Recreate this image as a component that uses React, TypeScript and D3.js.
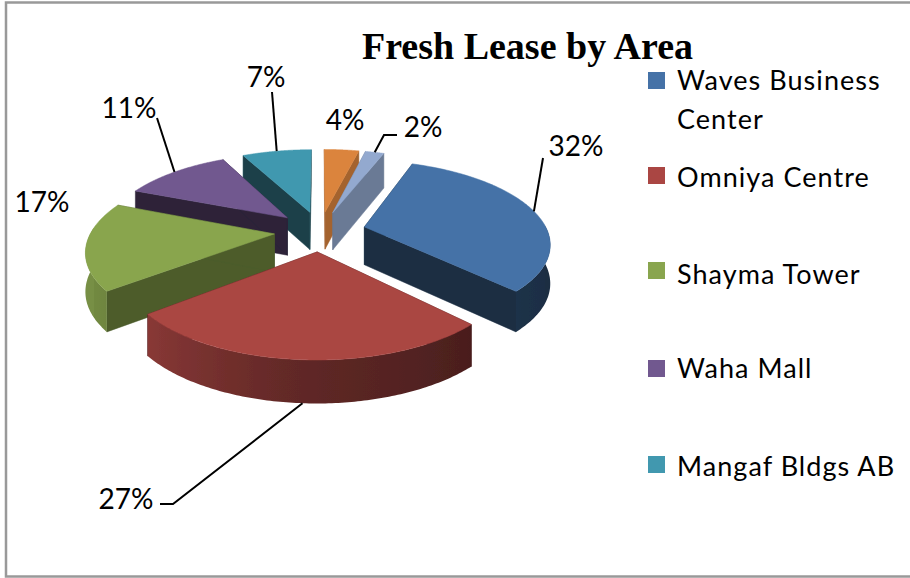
import React from "react";
import * as d3 from "d3";

const categories = ["Waves Business Center", "Omniya Centre", "Shayma Tower", "Waha Mall", "Mangaf Bldgs AB", "Other A", "Other B"];
const values = [32.0, 26.5, 17.0, 11.4, 7.4, 3.7, 2.0];
const colors = ["#4572A7", "#AA4643", "#89A54E", "#71588F", "#4198AF", "#DB843D", "#93A9CF"];
const wallShade = [0.4, 0.4, 0.56, 0.4, 0.42, 0.75, 0.72];
const legendLines = [["Waves Business", "Center"], ["Omniya Centre"], ["Shayma Tower"], ["Waha Mall"], ["Mangaf Bldgs AB"]];
const legendBoxY = [72, 167, 262, 360, 456];
const legendTextY = [[90, 129], [187], [284], [378], [476]];
const labelPos: [number, number][] = [
  [576, 156], [126, 509], [42, 212], [129, 118],
  [266, 87], [345, 130], [423, 137],
];
const leaderElbows: ([number, number][])[] = [
  [[543, 158]], [[173, 504], [160, 504]], [], [[157, 118]], [[272, 92]], [], [[384, 135], [397, 135]],
];

const W = 910, H = 578;
const CX = 320, CY = 231, R = 183, K = 80, P = 0.18, T = 38, EXPLODE = 0.25;
const arcs = d3.pie<number>().sort(null).startAngle((20.5 * Math.PI) / 180).endAngle((380.5 * Math.PI) / 180)(values);
const wallFactor = d3.scaleLinear().domain([90, 130, 180, 234, 300]).range([0.4, 0.42, 0.55, 0.82, 0.9]).clamp(true);
const line = d3.line<[number, number]>();
const shade = (c: string, f: number) => {
  const r = d3.rgb(c);
  return d3.rgb(r.r * f, r.g * f, r.b * f).formatHex();
};

// world disc (x right, y toward viewer) to screen with perspective; h = 1 is the bottom face
const project = (x: number, y: number, h = 0): [number, number] => {
  const s = 1 / (1 - P * y);
  return [CX + x * R * s, CY + K * y * s + T * h * (0.5 + 0.5 * s)];
};
const offsetOf = (a: d3.PieArcDatum<number>) => {
  const m = (a.startAngle + a.endAngle) / 2;
  return [EXPLODE * Math.sin(m), -EXPLODE * Math.cos(m)];
};
const rimPoint = (a: d3.PieArcDatum<number>, t: number, h = 0) => {
  const [ox, oy] = offsetOf(a);
  return project(ox + Math.sin(t), oy - Math.cos(t), h);
};
const apex = (a: d3.PieArcDatum<number>, h = 0) => {
  const [ox, oy] = offsetOf(a);
  return project(ox, oy, h);
};
const rimAngles = (a: d3.PieArcDatum<number>) => d3.range(0, 121).map((i) => a.startAngle + ((a.endAngle - a.startAngle) * i) / 120);
const closed = (pts: [number, number][]) => line(pts) + "Z";
const toDeg = (t: number) => ((t * 180) / Math.PI) % 360;

const order = d3.range(arcs.length).sort((i, j) => {
  const m = (k: number) => -Math.cos((arcs[k].startAngle + arcs[k].endAngle) / 2);
  return m(i) - m(j);
});

function Slice({ index }: { index: number }) {
  const a = arcs[index];
  const c = colors[index];
  const ts = rimAngles(a);
  const walls = shade(c, wallShade[index]);
  const visible = ts.filter((t) => toDeg(t) >= 88 && toDeg(t) <= 275);
  const x0 = visible.length ? rimPoint(a, visible[0])[0] : 0;
  const x1 = visible.length ? rimPoint(a, visible[visible.length - 1])[0] : 1;
  const gradId = `wall-${index}`;
  return (
    <g>
      <path d={closed([apex(a), rimPoint(a, a.startAngle), rimPoint(a, a.startAngle, 1), apex(a, 1)])} fill={walls} stroke={walls} strokeWidth={0.5} />
      <path d={closed([apex(a), rimPoint(a, a.endAngle), rimPoint(a, a.endAngle, 1), apex(a, 1)])} fill={walls} stroke={walls} strokeWidth={0.5} />
      {visible.length > 1 && (
        <>
          <linearGradient id={gradId} gradientUnits="userSpaceOnUse" x1={x0} y1={0} x2={x1} y2={0}>
            {visible.filter((_, i) => i % 6 === 0).map((t, i) => (
              <stop key={i} offset={(rimPoint(a, t)[0] - x0) / (x1 - x0)} stopColor={shade(c, wallFactor(toDeg(t)))} />
            ))}
          </linearGradient>
          <path
            d={closed([...visible.map((t) => rimPoint(a, t)), ...visible.slice().reverse().map((t) => rimPoint(a, t, 1))])}
            fill={`url(#${gradId})`}
          />
        </>
      )}
      <path d={closed([apex(a), ...ts.map((t) => rimPoint(a, t))])} fill={c} stroke={c} strokeWidth={0.5} />
    </g>
  );
}

const leaderStart = (i: number): [number, number] => {
  const a = arcs[i];
  return rimPoint(a, (a.startAngle + a.endAngle) / 2, i === 1 ? 1 : 0);
};

export default function App() {
  return (
    <svg width={W} height={H} style={{ position: "fixed", left: 0, top: 0, background: "#fff" }}>
      <defs>
        <filter id="soft" x="-5%" y="-5%" width="110%" height="110%">
          <feGaussianBlur stdDeviation={0.6} />
        </filter>
      </defs>
      <rect x={6} y={2.5} width={W + 10} height={H - 4} fill="#fff" stroke="#999" strokeWidth={2.5} />
      <text x={527.5} y={59} textAnchor="middle" fontFamily="'Liberation Serif', serif" fontWeight="bold" fontSize={38} fill="#000">Fresh Lease by Area</text>
      <g filter="url(#soft)">
        {order.map((i) => <Slice key={i} index={i} />)}
      </g>
      <g fill="none" stroke="#000" strokeWidth={2}>
        {leaderElbows.map((el, i) => el.length ? <path key={i} d={line([leaderStart(i), ...el]) || ""} /> : null)}
      </g>
      <g fontFamily="Lato, 'Open Sans', sans-serif" fill="#000">
        {labelPos.map(([x, y], i) => (
          <text key={i} x={x} y={y} textAnchor="middle" fontSize={28}>{d3.format(".0f")(values[i])}%</text>
        ))}
        {legendLines.map((lines, i) => (
          <g key={categories[i]}>
            <rect x={648} y={legendBoxY[i]} width={17} height={17} fill={colors[i]} />
            {lines.map((l, j) => (
              <text key={l} x={677} y={legendTextY[i][j]} fontSize={27} letterSpacing={1.05}>{l}</text>
            ))}
          </g>
        ))}
      </g>
    </svg>
  );
}
